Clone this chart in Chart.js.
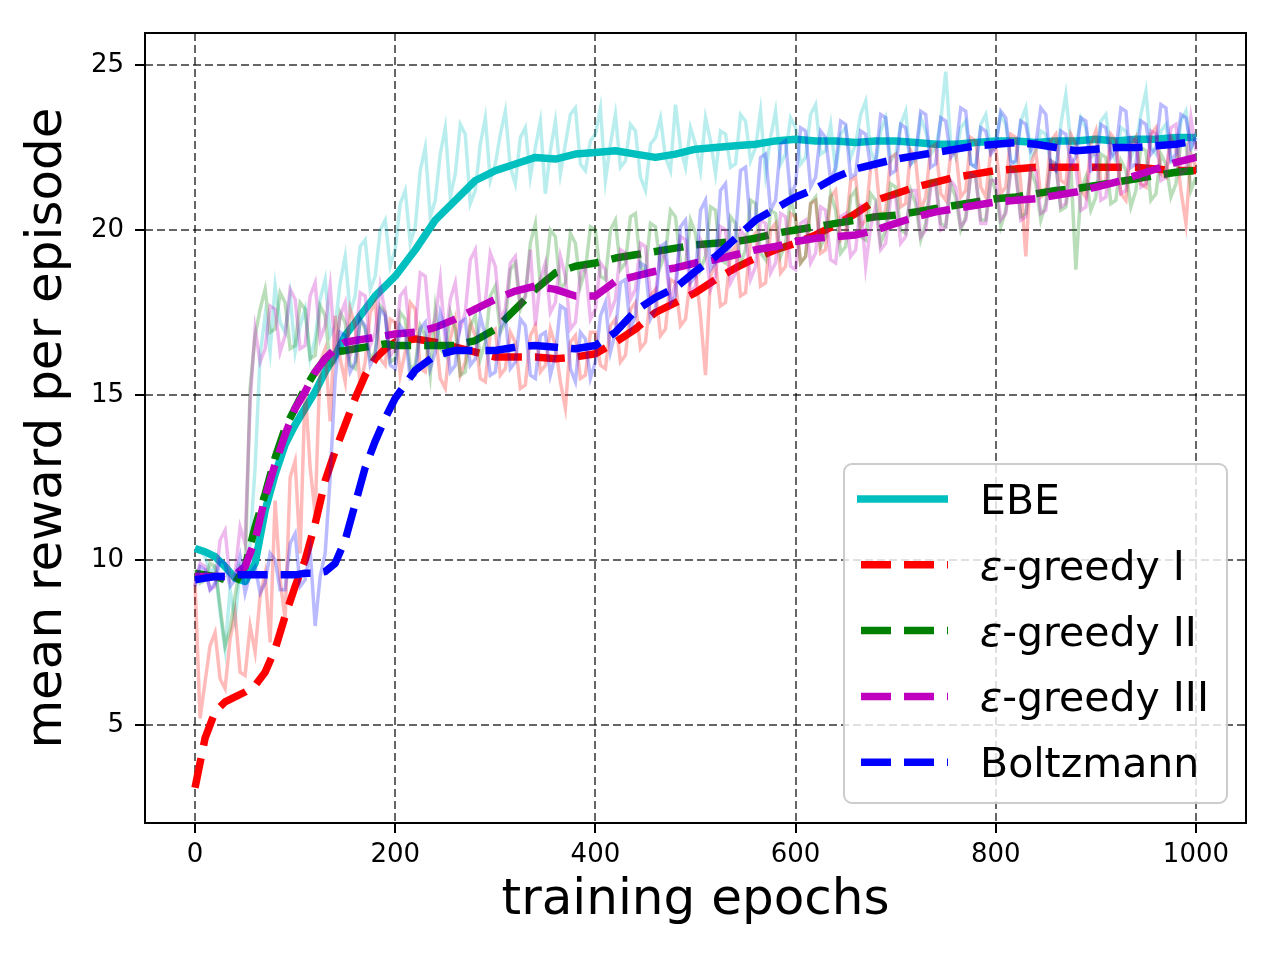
<!DOCTYPE html>
<html>
<head>
<meta charset="utf-8">
<title>mean reward per episode</title>
<script src="https://cdn.jsdelivr.net/npm/chart.js@4"></script>
<style>
  html, body { margin: 0; padding: 0; background: #fff; }
  canvas { display: block; }
</style>
</head>
<body>
<canvas id="rewardChart" width="1280" height="960"></canvas>
<script>
// epochs at which the raw (noisy) curves were logged
const rawEpochs = [
	0, 5, 10, 15, 20, 25, 30, 35, 40, 45,
	50, 55, 60, 65, 70, 75, 80, 85, 90, 95,
	100, 105, 110, 115, 120, 125, 130, 135, 140, 145,
	150, 155, 160, 165, 170, 175, 180, 185, 190, 195,
	200, 205, 210, 215, 220, 225, 230, 235, 240, 245,
	250, 255, 260, 265, 270, 275, 280, 285, 290, 295,
	300, 305, 310, 315, 320, 325, 330, 335, 340, 345,
	350, 355, 360, 365, 370, 375, 380, 385, 390, 395,
	400, 405, 410, 415, 420, 425, 430, 435, 440, 445,
	450, 455, 460, 465, 470, 475, 480, 485, 490, 495,
	500, 505, 510, 515, 520, 525, 530, 535, 540, 545,
	550, 555, 560, 565, 570, 575, 580, 585, 590, 595,
	600, 605, 610, 615, 620, 625, 630, 635, 640, 645,
	650, 655, 660, 665, 670, 675, 680, 685, 690, 695,
	700, 705, 710, 715, 720, 725, 730, 735, 740, 745,
	750, 755, 760, 765, 770, 775, 780, 785, 790, 795,
	800, 805, 810, 815, 820, 825, 830, 835, 840, 845,
	850, 855, 860, 865, 870, 875, 880, 885, 890, 895,
	900, 905, 910, 915, 920, 925, 930, 935, 940, 945,
	950, 955, 960, 965, 970, 975, 980, 985, 990, 995,
	1000,
];

// epochs for the smoothed curves
const smoothEpochs = [
	0, 10, 20, 30, 40, 50, 60, 70, 80, 90, 100, 110, 120, 130, 140, 150, 160, 170, 180, 190, 200,
	220, 240, 260, 280, 300, 320, 340, 360, 380, 400,
	420, 440, 460, 480, 500, 520, 540, 560, 580, 600,
	620, 640, 660, 680, 700, 720, 740, 760, 780, 800,
	820, 840, 860, 880, 900, 920, 940, 960, 980, 1000,
];

// raw rewards
const ebeRaw = [
	10.4, 10.3, 10.1, 9.6, 9.8, 8.4, 7.3, 9.1, 8.2, 9.7,
	9.4, 10.5, 12.8, 16.2, 17.4, 16.3, 18.3, 17.2, 16.9, 18.0,
	16.3, 17.1, 17.6, 16.1, 16.7, 17.9, 18.5, 16.8, 17.1, 18.4,
	19.2, 17.5, 18.0, 19.5, 19.7, 18.2, 18.6, 20.0, 20.3, 18.9,
	19.4, 20.8, 21.2, 19.6, 20.1, 21.8, 22.5, 20.4, 20.9, 22.3,
	23.1, 21.0, 21.7, 23.2, 22.9, 20.8, 21.2, 22.6, 23.4, 21.5,
	22.0, 22.9, 23.6, 21.9, 21.4, 22.8, 23.1, 21.6, 22.5, 23.3,
	21.1, 22.4, 23.3, 21.7, 22.6, 23.5, 23.7, 22.0, 21.8, 22.7,
	22.9, 23.7, 21.5, 22.6, 23.5, 21.9, 22.1, 23.2, 23.0, 21.6,
	21.2, 22.6, 22.8, 23.4, 22.2, 21.8, 23.8, 22.5, 21.9, 23.1,
	22.6, 21.8, 23.4, 22.7, 21.7, 23.0, 22.9, 21.9, 22.0, 23.5,
	23.3, 22.1, 22.5, 23.6, 21.7, 22.8, 23.6, 22.0, 22.3, 23.4,
	23.1, 22.0, 22.2, 23.5, 23.8, 22.3, 22.4, 23.2, 21.8, 22.9,
	23.1, 22.2, 22.6, 23.5, 23.9, 22.4, 22.0, 23.0, 23.4, 22.1,
	22.3, 23.2, 23.6, 22.0, 22.1, 23.4, 23.0, 22.3, 22.5, 23.3,
	24.8, 22.6, 22.2, 23.1, 23.3, 22.0, 21.9, 23.2, 23.5, 22.4,
	22.7, 23.5, 23.2, 22.1, 22.0, 23.3, 23.7, 22.2, 22.4, 23.0,
	22.9, 22.0, 21.8, 23.2, 24.1, 22.6, 22.5, 23.4, 23.1, 22.2,
	22.3, 23.3, 23.5, 22.4, 22.1, 23.1, 23.0, 22.2, 22.6, 23.5,
	24.2, 22.5, 22.3, 23.0, 23.2, 22.1, 22.0, 23.3, 23.6, 22.4,
	22.9,
];
const greedy1Raw = [
	9.3, 5.2, 6.3, 7.4, 7.8, 6.4, 6.1, 7.6, 8.4, 6.6,
	6.5, 8.0, 7.2, 8.9, 9.6, 7.5, 11.8, 9.4, 8.2, 12.5,
	13.0, 10.2, 15.2, 12.8, 11.4, 16.0, 16.4, 14.2, 17.4, 16.1,
	15.4, 17.6, 17.1, 15.3, 16.0, 17.5, 17.8, 16.1, 15.9, 17.3,
	17.2, 15.6, 16.3, 17.8, 17.6, 15.8, 15.7, 17.0, 16.9, 15.5,
	15.2, 16.7, 17.3, 15.6, 16.0, 17.2, 16.8, 15.5, 15.4, 16.9,
	17.0, 15.6, 15.8, 16.9, 16.6, 15.2, 15.3, 16.8, 17.1, 15.7,
	15.9, 17.0, 16.5, 15.4, 14.6, 16.6, 16.8, 15.5, 15.6, 16.9,
	16.9, 15.9, 15.8, 17.1, 17.3, 16.0, 16.2, 17.6, 17.8, 16.4,
	16.6, 18.0, 18.2, 16.8, 17.0, 18.5, 18.4, 17.1, 17.3, 18.6,
	18.8, 17.4, 15.6, 18.6, 19.0, 17.7, 17.8, 19.3, 19.5, 18.0,
	18.1, 19.7, 19.9, 18.3, 18.4, 20.0, 20.2, 18.7, 18.9, 20.5,
	20.4, 19.0, 19.2, 20.8, 20.9, 19.3, 19.4, 21.0, 21.2, 19.7,
	19.9, 21.5, 21.6, 20.1, 20.3, 21.9, 22.0, 20.4, 20.6, 22.2,
	22.3, 20.7, 20.8, 22.4, 22.1, 20.6, 21.0, 22.5, 22.6, 21.1,
	20.9, 22.3, 22.4, 21.0, 21.2, 22.8, 22.7, 21.3, 21.0, 22.4,
	22.5, 21.1, 21.3, 22.9, 22.8, 21.4, 19.2, 22.0, 22.4, 21.0,
	21.1, 22.7, 22.9, 21.5, 21.4, 22.9, 22.6, 21.2, 21.0, 22.6,
	23.0, 21.4, 21.5, 22.9, 22.7, 21.1, 20.9, 22.5, 22.8, 21.4,
	21.3, 22.9, 23.1, 21.7, 21.6, 22.8, 22.5, 21.2, 20.2, 22.3,
	21.9,
];
const greedy2Raw = [
	9.7, 9.3, 9.4, 9.9, 9.8, 8.6, 7.4, 7.9, 8.9, 9.8,
	9.6, 15.2, 16.8, 17.6, 18.2, 16.9, 17.0, 18.1, 17.8, 16.4,
	16.5, 17.8, 17.6, 16.1, 16.2, 17.7, 17.4, 15.9, 16.0, 17.5,
	17.2, 15.9, 15.8, 17.3, 17.0, 16.1, 16.3, 17.7, 17.5, 16.0,
	16.1, 17.5, 17.3, 15.8, 15.9, 17.1, 16.8, 15.6, 17.6, 16.4,
	16.2, 17.5, 17.0, 15.6, 15.7, 17.1, 17.4, 16.1, 16.6, 18.0,
	18.3, 16.9, 17.2, 18.8, 19.0, 17.6, 18.0, 19.6, 20.2, 18.3,
	18.6, 20.0, 19.8, 18.2, 18.4, 19.9, 19.6, 18.3, 18.8, 20.1,
	20.0, 18.6, 18.5, 20.0, 20.3, 18.8, 19.0, 20.4, 20.5, 18.9,
	18.7, 20.2, 20.1, 18.9, 19.3, 20.6, 20.4, 19.0, 18.9, 20.3,
	19.9, 18.8, 19.2, 20.7, 20.6, 19.1, 19.0, 20.4, 20.2, 19.0,
	19.4, 20.9, 20.8, 19.3, 19.1, 20.6, 20.5, 19.2, 19.6, 21.0,
	20.3, 19.0, 19.2, 20.8, 21.0, 19.5, 19.8, 21.1, 20.6, 19.3,
	19.5, 21.0, 21.2, 19.8, 19.7, 21.1, 20.9, 19.6, 20.0, 21.4,
	21.3, 20.0, 19.9, 21.2, 20.8, 19.7, 20.2, 21.5, 21.5, 20.2,
	20.1, 21.4, 21.0, 20.0, 20.4, 21.7, 21.6, 20.3, 20.3, 21.6,
	21.2, 20.1, 20.6, 21.9, 21.8, 20.4, 20.5, 21.8, 21.4, 20.3,
	20.8, 22.1, 22.0, 20.6, 20.7, 21.9, 18.8, 21.2, 21.6, 20.6,
	21.0, 22.3, 22.2, 20.8, 20.9, 22.1, 21.8, 20.7, 21.2, 22.5,
	22.4, 20.9, 21.1, 22.3, 22.0, 21.0, 21.4, 22.7, 22.6, 21.2,
	21.6,
];
const greedy3Raw = [
	9.3, 9.9, 9.8, 9.1, 9.2, 10.6, 10.9, 9.4, 9.6, 11.0,
	10.5, 14.8, 17.0, 16.0, 16.4, 17.7, 17.6, 16.3, 16.8, 18.2,
	17.9, 16.4, 16.5, 18.0, 18.4, 16.7, 17.1, 18.3, 16.3, 17.4,
	17.8, 16.2, 16.6, 18.1, 18.0, 16.5, 16.9, 18.3, 17.5, 16.2,
	16.4, 18.0, 18.2, 16.8, 17.0, 18.7, 18.6, 16.9, 17.3, 18.5,
	16.6, 17.9, 18.4, 17.0, 17.5, 19.1, 19.4, 17.6, 17.8, 19.3,
	18.9, 17.3, 17.6, 19.0, 19.2, 17.7, 18.0, 19.4, 17.1, 18.5,
	19.0, 17.5, 17.8, 19.2, 18.6, 17.0, 17.2, 18.7, 18.9, 17.3,
	17.6, 19.0, 18.8, 17.5, 17.9, 19.4, 19.3, 17.9, 18.2, 19.6,
	19.5, 18.0, 18.0, 19.4, 19.1, 17.8, 18.4, 19.8, 19.7, 18.1,
	18.3, 19.7, 19.4, 18.2, 18.6, 20.1, 20.0, 18.4, 18.7, 20.0,
	19.8, 18.5, 18.9, 20.3, 20.2, 18.7, 19.0, 20.5, 20.4, 18.9,
	18.8, 20.2, 20.3, 19.0, 19.3, 20.7, 20.6, 19.1, 19.0, 20.4,
	20.5, 19.2, 19.4, 20.8, 18.9, 20.1, 20.7, 19.4, 19.6, 21.0,
	21.0, 19.6, 19.8, 21.2, 21.2, 19.8, 20.0, 21.3, 21.4, 20.0,
	20.1, 21.5, 21.3, 20.1, 20.3, 21.7, 21.6, 20.2, 20.2, 21.5,
	21.5, 20.3, 20.5, 21.8, 21.7, 20.3, 20.4, 21.9, 21.8, 20.5,
	20.6, 22.1, 22.0, 20.7, 20.8, 22.2, 21.9, 20.6, 20.7, 22.3,
	22.3, 20.9, 21.0, 22.6, 22.5, 21.1, 21.2, 22.8, 22.7, 21.3,
	21.4, 23.0, 22.9, 21.5, 21.6, 23.1, 23.2, 21.7, 21.8, 23.4,
	22.4,
];
const boltzmannRaw = [
	9.2, 9.8, 9.7, 9.1, 9.3, 10.0, 9.9, 9.2, 9.4, 10.1,
	9.0, 9.6, 9.8, 9.0, 9.3, 10.2, 10.0, 9.1, 9.1, 10.5,
	10.8, 9.2, 9.4, 10.3, 8.0, 9.5, 10.2, 12.5, 15.5, 16.9,
	16.8, 15.7, 16.0, 17.3, 17.1, 15.9, 16.2, 17.6, 17.4, 15.9,
	15.8, 17.1, 16.9, 15.5, 15.6, 17.0, 17.2, 15.8, 16.3, 17.5,
	17.0, 15.7, 15.9, 17.2, 17.3, 15.9, 16.1, 17.4, 16.8, 15.6,
	15.7, 17.0, 17.4, 15.8, 16.0, 17.3, 17.1, 15.6, 15.5, 16.8,
	16.9, 15.6, 16.2, 17.7, 17.6, 15.8, 15.4, 16.9, 16.7, 15.5,
	16.0, 17.4, 17.8, 16.3, 16.9, 18.4, 18.5, 17.0, 17.4, 19.0,
	18.9, 17.3, 17.6, 19.5, 19.6, 17.8, 18.0, 20.1, 20.3, 18.4,
	18.6, 20.6, 20.9, 18.8, 19.0, 21.2, 21.4, 19.5, 19.8, 21.8,
	21.9, 20.1, 20.4, 22.2, 22.3, 20.6, 20.9, 22.6, 22.7, 21.0,
	21.4, 23.1, 23.0, 21.3, 21.6, 23.0, 22.8, 21.5, 21.9, 23.3,
	23.2, 21.6, 21.7, 23.0, 22.9, 21.9, 22.1, 23.5, 23.4, 21.7,
	21.8, 23.2, 23.1, 22.0, 22.3, 23.6, 23.5, 21.9, 22.0, 23.4,
	23.3, 22.2, 22.4, 23.7, 23.6, 22.0, 21.9, 23.1, 23.0, 22.3,
	22.5, 23.6, 23.4, 22.0, 22.1, 23.3, 23.2, 22.4, 22.6, 23.7,
	23.5, 21.9, 21.8, 23.0, 22.9, 22.0, 22.2, 23.4, 23.3, 21.8,
	21.9, 23.2, 23.1, 22.2, 22.4, 23.7, 23.6, 21.9, 22.0, 23.3,
	23.2, 22.3, 22.5, 23.8, 23.7, 22.1, 22.3, 23.5, 23.4, 22.5,
	22.8,
];

// smoothed rewards
const ebeSmooth = [
	10.35, 10.25, 10.1, 9.8, 9.45, 9.35, 9.9, 11.5, 12.6, 13.5, 14.1, 14.6, 15.1, 15.7, 16.2, 16.8, 17.2, 17.6, 18.0, 18.3, 18.6,
	19.4, 20.3, 20.9, 21.5, 21.8, 22.0, 22.2, 22.15, 22.3, 22.35,
	22.4, 22.3, 22.2, 22.3, 22.45, 22.5, 22.55, 22.6, 22.7, 22.75,
	22.7, 22.7, 22.65, 22.7, 22.7, 22.65, 22.6, 22.6, 22.65, 22.7,
	22.7, 22.65, 22.7, 22.7, 22.75, 22.7, 22.75, 22.75, 22.8, 22.8,
];
const greedy1Smooth = [
	3.1, 4.6, 5.4, 5.7, 5.85, 6.0, 6.2, 6.6, 7.3, 8.3, 9.2, 10.0, 11.1, 12.4, 13.3, 14.1, 14.9, 15.6, 16.1, 16.4, 16.6,
	16.7, 16.6, 16.45, 16.3, 16.15, 16.15, 16.15, 16.1, 16.15, 16.25,
	16.6, 17.0, 17.5, 17.8, 18.1, 18.5, 18.85, 19.15, 19.4, 19.6,
	19.85, 20.15, 20.5, 20.9, 21.1, 21.3, 21.45, 21.6, 21.7, 21.8,
	21.85, 21.9, 21.9, 21.9, 21.9, 21.9, 21.9, 21.85, 21.8, 21.8,
];
const greedy2Smooth = [
	9.6, 9.55, 9.5, 9.4, 9.3, 9.8, 11.0, 12.0, 13.1, 14.0, 14.6, 15.2, 15.7, 16.1, 16.3, 16.35, 16.4, 16.45, 16.5, 16.55, 16.5,
	16.5, 16.5, 16.5, 16.65, 17.0, 17.6, 18.2, 18.7, 18.9, 19.0,
	19.15, 19.25, 19.35, 19.45, 19.55, 19.6, 19.65, 19.75, 19.9, 20.0,
	20.1, 20.2, 20.3, 20.4, 20.45, 20.55, 20.65, 20.75, 20.85, 20.95,
	21.0, 21.1, 21.2, 21.25, 21.35, 21.45, 21.55, 21.65, 21.75, 21.8,
];
const greedy3Smooth = [
	9.5, 9.5, 9.5, 9.5, 9.55, 9.8, 10.6, 11.9, 12.9, 13.8, 14.6, 15.1, 15.7, 16.1, 16.4, 16.6, 16.65, 16.7, 16.75, 16.8, 16.85,
	16.9, 17.05, 17.3, 17.6, 17.9, 18.15, 18.3, 18.2, 18.0, 18.0,
	18.45, 18.6, 18.75, 18.85, 19.0, 19.1, 19.25, 19.4, 19.5, 19.65,
	19.75, 19.8, 19.85, 20.0, 20.2, 20.4, 20.55, 20.65, 20.75, 20.85,
	20.9, 20.95, 21.05, 21.15, 21.3, 21.45, 21.65, 21.85, 22.05, 22.2,
];
const boltzmannSmooth = [
	9.4, 9.45, 9.5, 9.5, 9.55, 9.55, 9.55, 9.55, 9.55, 9.55, 9.55, 9.6, 9.6, 9.65, 9.9, 10.6, 11.7, 12.8, 13.6, 14.3, 14.9,
	15.75, 16.2, 16.35, 16.35, 16.35, 16.45, 16.5, 16.45, 16.4, 16.5,
	16.9, 17.55, 17.95, 18.25, 18.75, 19.2, 19.75, 20.3, 20.65, 21.0,
	21.25, 21.6, 21.85, 22.0, 22.15, 22.25, 22.35, 22.45, 22.55, 22.6,
	22.65, 22.6, 22.5, 22.4, 22.45, 22.5, 22.5, 22.55, 22.6, 22.7,
];

const xTicks = [0, 200, 400, 600, 800, 1000];
const yTicks = [5, 10, 15, 20, 25];

const series = [
	{ label: "EBE", color: "0,191,191", raw: ebeRaw, smooth: ebeSmooth, dashed: false },
	{ label: "ε-greedy I", color: "255,0,0", raw: greedy1Raw, smooth: greedy1Smooth, dashed: true },
	{ label: "ε-greedy II", color: "0,128,0", raw: greedy2Raw, smooth: greedy2Smooth, dashed: true },
	{ label: "ε-greedy III", color: "191,0,191", raw: greedy3Raw, smooth: greedy3Smooth, dashed: true },
	{ label: "Boltzmann", color: "0,0,255", raw: boltzmannRaw, smooth: boltzmannSmooth, dashed: true },
];

const DASH = [30, 13];
const FONT = '"DejaVu Sans", "Liberation Sans", sans-serif';

function toPoints(xs, ys) {
	return ys.map((y, i) => ({ x: xs[i], y: y }));
}

// raw first, smoothed on top, series by series (as matplotlib stacked them)
let datasets = [];
series.forEach((s) => {
	datasets.push({
		label: s.label + " raw",
		data: toPoints(rawEpochs, s.raw),
		borderColor: `rgba(${s.color},0.27)`,
		borderWidth: 3.5,
		pointRadius: 0,
		tension: 0,
		inLegend: false,
	});
	datasets.push({
		label: s.label,
		data: toPoints(smoothEpochs, s.smooth),
		borderColor: `rgb(${s.color})`,
		borderWidth: 7.5,
		borderDash: s.dashed ? DASH : [],
		borderJoinStyle: "round",
		pointRadius: 0,
		tension: 0,
		inLegend: true,
	});
});
// chart.js draws the lowest "order" last, so give earlier sets a higher order
datasets.forEach((d, i) => (d.order = datasets.length - i));

// frame + matplotlib-like legend in the lower right of the plot
const frameAndLegend = {
	id: "frameAndLegend",
	afterDraw(chart) {
		const { ctx, chartArea } = chart;
		ctx.save();
		ctx.strokeStyle = "#000";
		ctx.lineWidth = 2;
		ctx.setLineDash([]);
		ctx.strokeRect(chartArea.left, chartArea.top, chartArea.right - chartArea.left, chartArea.bottom - chartArea.top);

		const entries = chart.data.datasets.filter((d) => d.inLegend);
		const w = 383, h = 339;
		const bx = chartArea.right - 19 - w;
		const by = chartArea.bottom - 20 - h;

		ctx.beginPath();
		ctx.roundRect(bx, by, w, h, 8);
		ctx.fillStyle = "rgba(255,255,255,0.8)";
		ctx.fill();
		ctx.strokeStyle = "#cccccc";
		ctx.lineWidth = 2;
		ctx.stroke();

		entries.forEach((d, i) => {
			const cy = by + 35 + i * 65.8;
			ctx.beginPath();
			ctx.strokeStyle = d.borderColor;
			ctx.lineWidth = 7.5;
			ctx.lineCap = "butt";
			if (d.borderDash.length) {
				ctx.setLineDash(DASH);
				ctx.moveTo(bx + 17, cy);
				ctx.lineTo(bx + 104, cy);
			} else {
				ctx.setLineDash([]);
				ctx.moveTo(bx + 13, cy);
				ctx.lineTo(bx + 104, cy);
			}
			ctx.stroke();
			ctx.setLineDash([]);

			let tx = bx + 136;
			const ty = cy + 15;
			ctx.fillStyle = "#000";
			ctx.textBaseline = "alphabetic";
			ctx.textAlign = "left";
			let text = d.label;
			if (text.startsWith("ε")) {
				ctx.font = "italic 41px " + FONT;
				ctx.fillText("ε", tx, ty);
				tx += ctx.measureText("ε").width;
				text = text.slice(1);
			}
			ctx.font = "41px " + FONT;
			ctx.fillText(text, tx, ty);
		});
		ctx.restore();
	},
};

Chart.defaults.font.family = FONT;
Chart.defaults.color = "#000";

const ctx = document.getElementById("rewardChart");
const chart = new Chart(ctx, {
	type: "line",
	data: { datasets: datasets },
	options: {
		responsive: false,
		animation: false,
		devicePixelRatio: 1,
		layout: { padding: { top: 33, right: 34, left: 0, bottom: 0 } },
		plugins: {
			legend: { display: false },
			tooltip: { enabled: false },
		},
		scales: {
			x: {
				type: "linear",
				min: -50,
				max: 1050,
				afterBuildTicks: (scale) => {
					scale.ticks = xTicks.map((v) => ({ value: v }));
				},
				afterFit: (scale) => {
					scale.height = 137;
				},
				ticks: {
					font: { size: 26 },
					color: "#000",
					padding: 7,
					maxRotation: 0,
					callback: (value) => String(value),
				},
				grid: {
					color: "rgba(0,0,0,0.6)",
					lineWidth: 2,
					tickLength: 10,
					tickColor: "#000",
					tickWidth: 2,
					tickBorderDash: [],
				},
				border: { display: false, dash: [8, 4] },
				title: {
					display: true,
					text: "training epochs",
					font: { size: 50 },
					color: "#000",
					padding: { top: 0, bottom: 29 },
				},
			},
			y: {
				type: "linear",
				min: 2.03,
				max: 25.97,
				afterBuildTicks: (scale) => {
					scale.ticks = yTicks.map((v) => ({ value: v }));
				},
				afterFit: (scale) => {
					scale.width = 145;
				},
				ticks: {
					font: { size: 26 },
					color: "#000",
					padding: 11,
					callback: (value) => String(value),
				},
				grid: {
					color: "rgba(0,0,0,0.6)",
					lineWidth: 2,
					tickLength: 10,
					tickColor: "#000",
					tickWidth: 2,
					tickBorderDash: [],
				},
				border: { display: false, dash: [8, 4] },
				title: {
					display: true,
					text: "mean reward per episode",
					font: { size: 50 },
					color: "#000",
					padding: { top: 18, bottom: 0 },
				},
			},
		},
	},
	plugins: [frameAndLegend],
});
</script>
</body>
</html>
